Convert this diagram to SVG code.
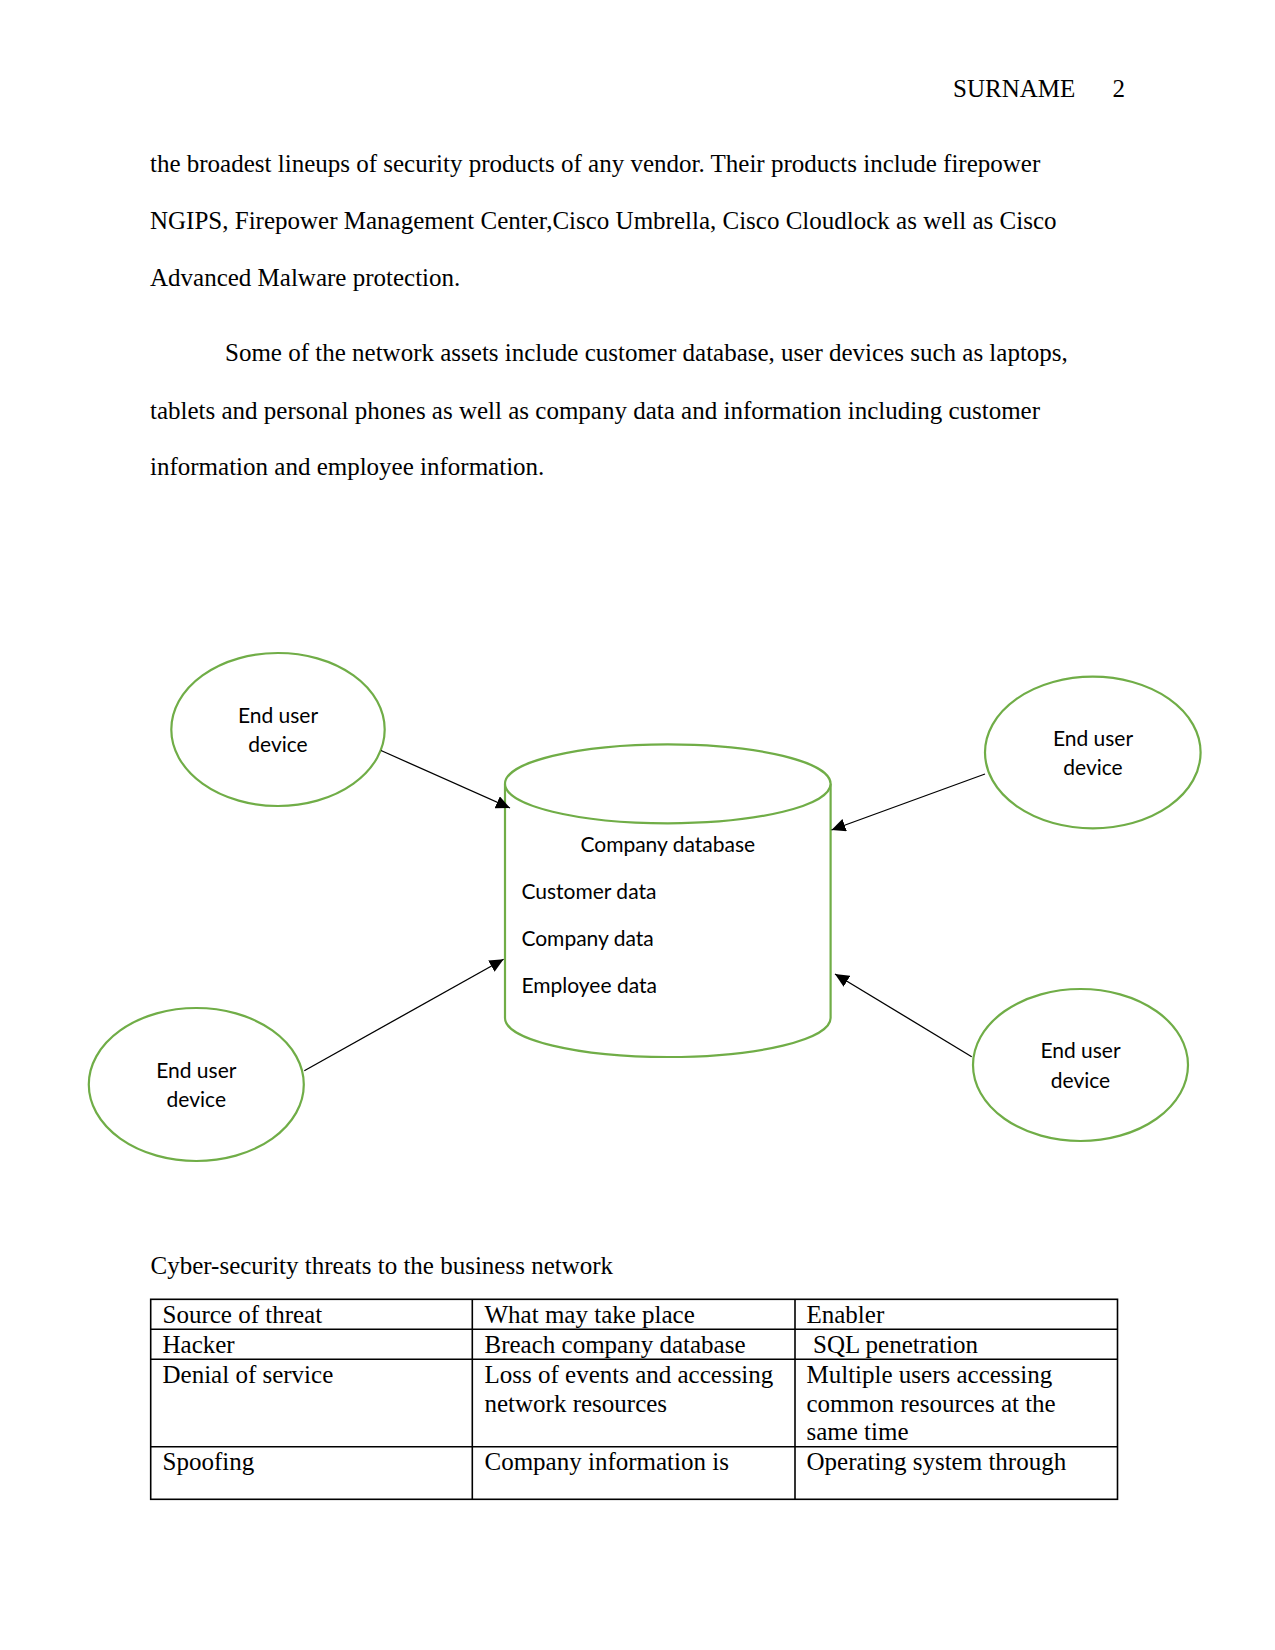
<svg xmlns="http://www.w3.org/2000/svg" width="1275" height="1650" viewBox="0 0 1275 1650">
<style>
.body{font-family:"Liberation Serif","Times New Roman",serif;font-size:25px;fill:#000}
.lbl{font-family:Lato,"Open Sans",sans-serif;font-size:21px;fill:#000}
.node{fill:#fff;stroke:#70AD47;stroke-width:2.2}
.conn{stroke:#000;stroke-width:1.3;fill:none}
.grid{stroke:#000;stroke-width:1.6;fill:none}
</style>
<defs>
<marker id="arr" markerUnits="userSpaceOnUse" markerWidth="15" markerHeight="13" refX="14" refY="6.5" orient="auto">
<path d="M0,0 L14,6.5 L0,13 z" fill="#000"/>
</marker>
</defs>
<rect width="1275" height="1650" fill="#fff"/>

<g id="page-text" class="body">
<text x="953" y="97">SURNAME</text>
<text x="1125" y="97" text-anchor="end">2</text>
<text x="150" y="172">the broadest lineups of security products of any vendor. Their products include firepower</text>
<text x="150" y="228.5">NGIPS, Firepower Management Center,Cisco Umbrella, Cisco Cloudlock as well as Cisco</text>
<text x="150" y="286">Advanced Malware protection.</text>
<text x="225" y="361">Some of the network assets include customer database, user devices such as laptops,</text>
<text x="150" y="418.5">tablets and personal phones as well as company data and information including customer</text>
<text x="150" y="475">information and employee information.</text>
</g>

<g id="database">
<path class="node" d="M505,783.8 L505,1018 A162.8,39 0 0 0 830.6,1018 L830.6,783.8"/>
<ellipse class="node" cx="667.8" cy="783.8" rx="162.8" ry="39.5"/>
<text class="lbl" x="667.8" y="851.5" text-anchor="middle">Company database</text>
<text class="lbl" x="521.4" y="899">Customer data</text>
<text class="lbl" x="521.4" y="946">Company data</text>
<text class="lbl" x="521.4" y="992.5">Employee data</text>
</g>

<g id="device-top-left">
<ellipse class="node" cx="278" cy="729.5" rx="106.7" ry="76.5"/>
<text class="lbl" x="278" y="722.5" text-anchor="middle">End user</text>
<text class="lbl" x="278" y="752" text-anchor="middle">device</text>
</g>

<g id="device-top-right">
<ellipse class="node" cx="1092.8" cy="752.5" rx="107.8" ry="75.8"/>
<text class="lbl" x="1093" y="745.5" text-anchor="middle">End user</text>
<text class="lbl" x="1093" y="775" text-anchor="middle">device</text>
</g>

<g id="device-bottom-left">
<ellipse class="node" cx="196.3" cy="1084.5" rx="107.5" ry="76.5"/>
<text class="lbl" x="196.3" y="1077.5" text-anchor="middle">End user</text>
<text class="lbl" x="196.3" y="1107" text-anchor="middle">device</text>
</g>

<g id="device-bottom-right">
<ellipse class="node" cx="1080.5" cy="1065" rx="107.5" ry="76"/>
<text class="lbl" x="1080.5" y="1058" text-anchor="middle">End user</text>
<text class="lbl" x="1080.5" y="1087.5" text-anchor="middle">device</text>
</g>

<g id="connectors">
<line class="conn" x1="381" y1="750.5" x2="510" y2="808" marker-end="url(#arr)"/>
<line class="conn" x1="985" y1="774" x2="831.5" y2="830" marker-end="url(#arr)"/>
<line class="conn" x1="304.3" y1="1070.7" x2="503.6" y2="959.3" marker-end="url(#arr)"/>
<line class="conn" x1="971.7" y1="1056.7" x2="835" y2="974" marker-end="url(#arr)"/>
</g>

<g id="threat-table">
<text class="body" x="150.5" y="1274">Cyber-security threats to the business network</text>
<rect class="grid" x="150.7" y="1299.3" width="966.8" height="200"/>
<line class="grid" x1="150.7" y1="1329.3" x2="1117.5" y2="1329.3"/>
<line class="grid" x1="150.7" y1="1359.3" x2="1117.5" y2="1359.3"/>
<line class="grid" x1="150.7" y1="1446.7" x2="1117.5" y2="1446.7"/>
<line class="grid" x1="472.3" y1="1299.3" x2="472.3" y2="1499.3"/>
<line class="grid" x1="795" y1="1299.3" x2="795" y2="1499.3"/>
<g class="body">
<text x="162.5" y="1322.5">Source of threat</text>
<text x="484.5" y="1322.5">What may take place</text>
<text x="806.5" y="1322.5">Enabler</text>
<text x="162.5" y="1352.5">Hacker</text>
<text x="484.5" y="1352.5">Breach company database</text>
<text x="813" y="1352.5">SQL penetration</text>
<text x="162.5" y="1383">Denial of service</text>
<text x="484.5" y="1383">Loss of events and accessing</text>
<text x="484.5" y="1411.5">network resources</text>
<text x="806.5" y="1383">Multiple users accessing</text>
<text x="806.5" y="1411.5">common resources at the</text>
<text x="806.5" y="1440">same time</text>
<text x="162.5" y="1469.5">Spoofing</text>
<text x="484.5" y="1469.5">Company information is</text>
<text x="806.5" y="1469.5">Operating system through</text>
</g>
</g>
</svg>
